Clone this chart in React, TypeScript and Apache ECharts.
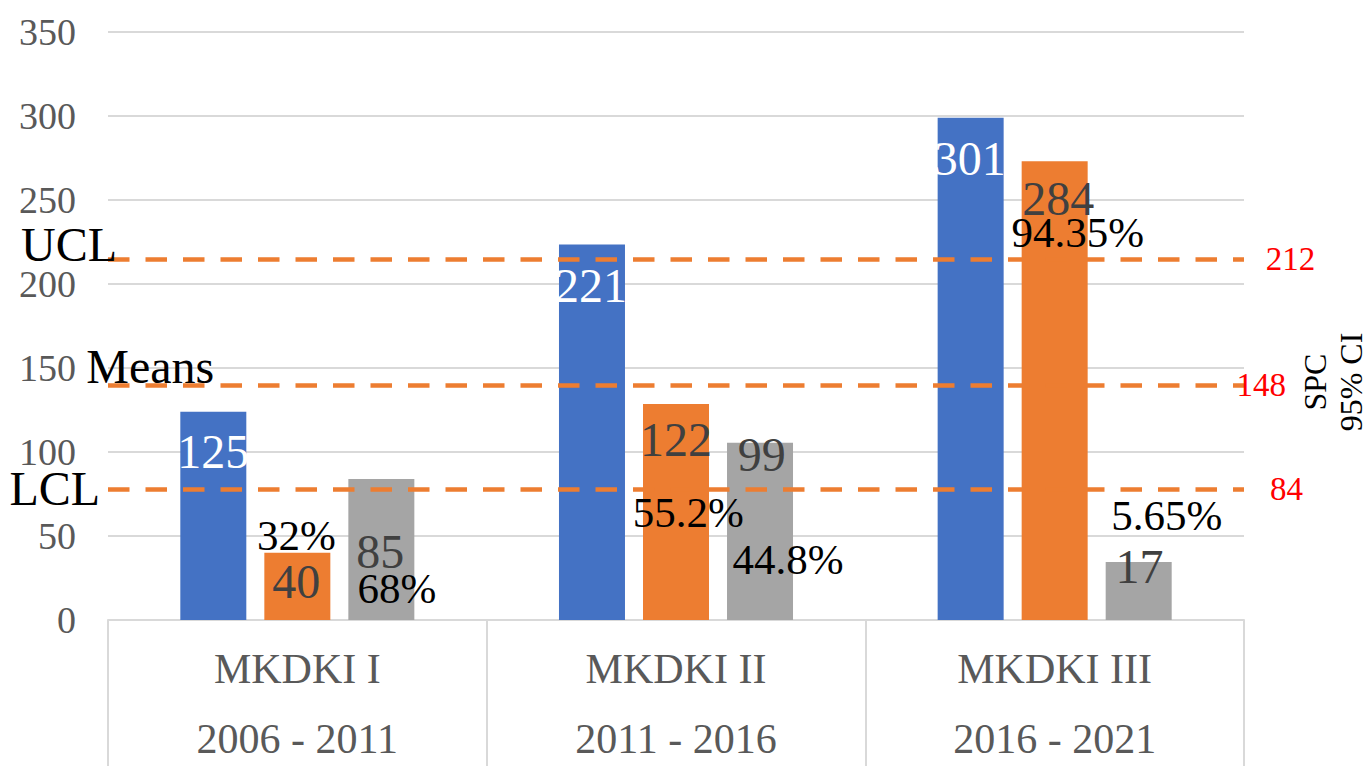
import React, { useEffect, useRef } from 'react';
import * as echarts from 'echarts';

// ---------- data ----------
const categories = ['MKDKI I', 'MKDKI II', 'MKDKI III'];
const periods = ['2006 - 2011', '2011 - 2016', '2016 - 2021'];
const blueValues = [124, 223.5, 299];
const orangeValues = [40, 128.5, 273];
const grayValues = [84, 105.5, 34.5];
const blueLabels = ['125', '221', '301'];
const orangeLabels = ['40', '122', '284'];
const grayLabels = ['85', '99', '17'];
const orangePercents = ['32%', '55.2%', '94.35%'];
const grayPercents = ['68%', '44.8%', '5.65%'];
const limitNames = ['UCL', 'Means', 'LCL'];
const limitValues = [215, 140, 78];
const limitLabels = ['212', '148', '84'];
const yMin = 0;
const yMax = 350;
const yStep = 50;

// ---------- layout / style (offsets relative to bar top centre) ----------
const SERIF = "'Liberation Serif', 'Times New Roman', serif";
const blueOffsets = [[0, 40], [-1, 40.5], [-1, 40.5]];
const orangeOffsets = [[-1, 28.7], [0, 35.7], [3.7, 36.7]];
const grayOffsets = [[-1, 72.3], [1.8, 11.3], [0.7, 4]];
const orangePctOffsets = [[-1, -17], [12.3, 108], [23, 70.8]];
const grayPctOffsets = [[15.5, 109.3], [28, 116.8], [28, -46.7]];
const nameLabelStyles = [
  { position: 'insideStartTop', distance: [-87, -9.7] },
  { position: 'insideStartTop', distance: [-21.8, -5.4] },
  { position: 'insideStart', distance: [-98.5, 0] },
];
const valueLabelStyles = [
  { distance: [21.7, 0], padding: [8, 0, 0, 0] },
  { distance: [-7.6, 0], padding: [0, 0, 0, 0] },
  { distance: [26, 0], padding: [0, 0, 7, 0] },
];

function barData(values: number[], labels: string[], offs: number[][], color: string) {
  return values.map((v, i) => ({
    value: v,
    label: {
      show: true,
      formatter: labels[i],
      position: ['50%', offs[i][1]],
      offset: [offs[i][0], 0],
      align: 'center',
      verticalAlign: 'middle',
      color,
      fontSize: 48,
      fontFamily: SERIF,
    },
  }));
}

function pctMarks(values: number[], pcts: string[], offs: number[][]) {
  return {
    symbol: 'rect',
    symbolSize: 1,
    silent: true,
    itemStyle: { color: 'rgba(0,0,0,0)' },
    label: {
      show: true,
      position: 'inside',
      color: '#000000',
      fontSize: 43,
      fontFamily: SERIF,
      formatter: (p: any) => p.name,
    },
    emphasis: { disabled: true },
    data: pcts.map((t, i) => ({
      name: t,
      coord: [categories[i], values[i]],
      label: { offset: offs[i] },
    })),
  };
}

export default function App() {
  const ref = useRef<HTMLDivElement>(null);

  useEffect(() => {
    if (!ref.current) return;
    const chart = echarts.init(ref.current, undefined, { renderer: 'svg' });
    const option: any = {
      animation: false,
      backgroundColor: '#ffffff',
      grid: { left: 108, right: 124, top: 32, bottom: 146, containLabel: false },
      xAxis: {
        type: 'category',
        data: categories,
        axisLine: { show: true, lineStyle: { color: '#D9D9D9', width: 2 } },
        axisTick: { show: true, length: 146, interval: 0, lineStyle: { color: '#D9D9D9', width: 2 } },
        axisLabel: {
          interval: 0,
          margin: 14,
          formatter: (v: string, i: number) => `{a|${v}}\n{b|${periods[i]}}`,
          rich: {
            a: { fontSize: 42, lineHeight: 70, color: '#595959', fontFamily: SERIF, align: 'center' },
            b: { fontSize: 42, lineHeight: 70, color: '#595959', fontFamily: SERIF, align: 'center' },
          },
        },
      },
      yAxis: {
        type: 'value',
        min: yMin,
        max: yMax,
        interval: yStep,
        axisLine: { show: false },
        axisTick: { show: false },
        axisLabel: { color: '#595959', fontSize: 38, fontFamily: SERIF, margin: 32 },
        splitLine: { lineStyle: { color: '#D9D9D9', width: 2 } },
      },
      series: [
        {
          type: 'bar',
          name: 'blue',
          barWidth: 66,
          barGap: '27.3%',
          itemStyle: { color: '#4472C4' },
          data: barData(blueValues, blueLabels, blueOffsets, '#FFFFFF'),
          z: 2,
        },
        {
          type: 'bar',
          name: 'orange',
          barWidth: 66,
          barGap: '27.3%',
          itemStyle: { color: '#ED7D31' },
          data: barData(orangeValues, orangeLabels, orangeOffsets, '#404040'),
          markPoint: pctMarks(orangeValues, orangePercents, orangePctOffsets),
          z: 2,
        },
        {
          type: 'bar',
          name: 'gray',
          barWidth: 66,
          barGap: '27.3%',
          itemStyle: { color: '#A5A5A5' },
          data: barData(grayValues, grayLabels, grayOffsets, '#404040'),
          markPoint: pctMarks(grayValues, grayPercents, grayPctOffsets),
          z: 2,
        },
        {
          type: 'line',
          name: 'limits',
          data: [],
          z: 4,
          markLine: {
            silent: true,
            symbol: ['none', 'none'],
            lineStyle: { color: '#ED7D31', width: 4.5, type: [21.5, 16], cap: 'butt' },
            emphasis: { disabled: true },
            label: { show: true, color: '#000000', fontSize: 48, fontFamily: SERIF },
            data: limitValues.map((v, i) => ({
              yAxis: v,
              name: limitNames[i],
              label: { ...nameLabelStyles[i], formatter: limitNames[i] },
            })),
          },
        },
        {
          type: 'line',
          name: 'limitValues',
          data: [],
          z: 4,
          markLine: {
            silent: true,
            symbol: ['none', 'none'],
            lineStyle: { color: 'rgba(0,0,0,0)', width: 1, type: 'solid' },
            emphasis: { disabled: true },
            label: { show: true, position: 'end', color: '#FF0000', fontSize: 33, fontFamily: SERIF },
            data: limitValues.map((v, i) => ({
              yAxis: v,
              label: { ...valueLabelStyles[i], formatter: limitLabels[i] },
            })),
          },
        },
      ],
      graphic: [
        {
          type: 'text',
          x: 1333,
          y: 382,
          rotation: Math.PI / 2,
          style: {
            text: 'SPC\n95% CI',
            fill: '#000000',
            font: `32px ${SERIF}`,
            lineHeight: 36,
            align: 'center',
            verticalAlign: 'middle',
          },
        },
      ],
    };
    chart.setOption(option);
    return () => chart.dispose();
  }, []);

  return (
    <div
      ref={ref}
      style={{ position: 'fixed', left: 0, top: 0, width: 1368, height: 766, background: '#fff' }}
    />
  );
}
